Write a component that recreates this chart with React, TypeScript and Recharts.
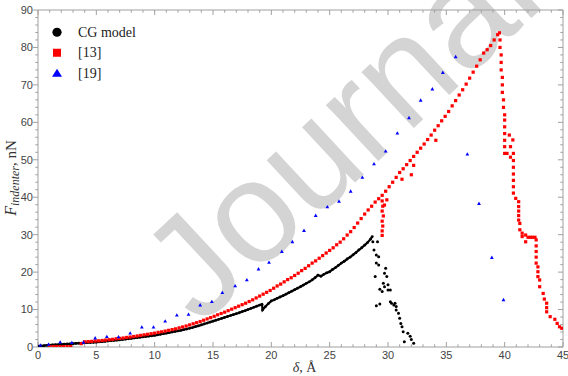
import React from 'react';
import { ScatterChart, Scatter, XAxis, YAxis, ReferenceLine, ReferenceArea, Legend } from 'recharts';

// ---------- axis ticks ----------
const xTicks = [0, 5, 10, 15, 20, 25, 30, 35, 40, 45];
const yTicks = [0, 10, 20, 30, 40, 50, 60, 70, 80, 90];
const xMinorTicks = [1, 2, 3, 4, 6, 7, 8, 9, 11, 12, 13, 14, 16, 17, 18, 19, 21, 22, 23, 24, 26, 27, 28, 29, 31, 32, 33, 34, 36, 37, 38, 39, 41, 42, 43, 44];
const yMinorTicks = [2, 4, 6, 8, 12, 14, 16, 18, 22, 24, 26, 28, 32, 34, 36, 38, 42, 44, 46, 48, 52, 54, 56, 58, 62, 64, 66, 68, 72, 74, 76, 78, 82, 84, 86, 88];

// ---------- series names ----------
const seriesNames = ['CG model', '[13]', '[19]'];

// ---------- CG model (dense curve) ----------
const cgCurveX = [0, 0.25, 0.5, 0.75, 1, 1.25, 1.5, 1.75, 2, 2.25, 2.5, 2.75, 3, 3.25, 3.5, 3.75, 4, 4.25, 4.5, 4.75, 5, 5.25, 5.5, 5.75, 6, 6.25, 6.5, 6.75, 7, 7.25, 7.5, 7.75, 8, 8.25, 8.5, 8.75, 9, 9.25, 9.5, 9.75, 10, 10.25, 10.5, 10.75, 11, 11.25, 11.5, 11.75, 12, 12.25, 12.5, 12.75, 13, 13.25, 13.5, 13.75, 14, 14.25, 14.5, 14.75, 15, 15.25, 15.5, 15.75, 16, 16.25, 16.5, 16.75, 17, 17.25, 17.5, 17.75, 18, 18.25, 18.5, 18.75, 19, 19.2, 19.25, 19.5, 19.75, 20, 20.25, 20.5, 20.75, 21, 21.25, 21.5, 21.75, 22, 22.25, 22.5, 22.75, 23, 23.25, 23.5, 23.75, 24, 24.25, 24.5, 24.75, 25, 25.25, 25.5, 25.75, 26, 26.25, 26.5, 26.75, 27, 27.25, 27.5, 27.75, 28, 28.25, 28.5, 28.65];
const cgCurveY = [0.2, 0.3, 0.35, 0.45, 0.5, 0.55, 0.6, 0.65, 0.7, 0.75, 0.8, 0.85, 0.9, 0.95, 1.0, 1.05, 1.1, 1.15, 1.2, 1.25, 1.3, 1.38, 1.45, 1.52, 1.6, 1.68, 1.75, 1.83, 1.9, 2.0, 2.1, 2.2, 2.3, 2.4, 2.5, 2.6, 2.7, 2.8, 2.9, 3.0, 3.1, 3.25, 3.4, 3.55, 3.7, 3.85, 4.0, 4.15, 4.3, 4.45, 4.65, 4.8, 5.0, 5.2, 5.45, 5.65, 5.9, 6.15, 6.4, 6.65, 6.9, 7.15, 7.4, 7.65, 7.9, 8.15, 8.4, 8.65, 8.9, 9.15, 9.45, 9.7, 10.0, 10.3, 10.6, 10.9, 11.2, 11.4, 9.9, 10.8, 11.6, 12.3, 12.6, 13.0, 13.35, 13.7, 14.1, 14.5, 14.9, 15.3, 15.7, 16.1, 16.55, 17.0, 17.4, 17.9, 18.5, 19.2, 18.9, 19.4, 19.8, 20.1, 20.7, 21.2, 21.8, 22.4, 22.9, 23.5, 24.0, 24.6, 25.2, 25.9, 26.5, 27.2, 27.9, 28.8, 29.5];

// ---------- CG model (scattered tail after rupture) ----------
const cgTailX = [28.7, 29.1, 28.8, 29.0, 29.2, 29.0, 29.2, 28.9, 29.3, 29.5, 29.0, 29.3, 29.8, 29.7, 29.9, 29.6, 29.7, 30.0, 30.0, 30.2, 30.2, 30.3, 30.5, 30.6, 30.7, 30.7, 30.9, 31.0, 31.1, 31.2, 31.3, 31.4, 31.7, 31.9, 32.0, 32.2];
const cgTailY = [28.1, 28.1, 25.9, 24.6, 24.1, 22.4, 21.9, 18.8, 15.4, 14.8, 11.0, 11.5, 21.0, 19.7, 18.8, 17.0, 16.1, 16.6, 15.2, 15.2, 12.1, 11.7, 11.2, 11.7, 10.8, 9.9, 9.0, 7.7, 6.3, 5.4, 4.1, 1.4, 3.7, 2.9, 2.0, 1.0];

// ---------- [13] ----------
const ref13X = [1.0, 1.3, 1.6, 1.9, 2.2, 2.5, 2.8, 3.7, 4.0, 4.3, 4.6, 4.9, 5.2, 5.5, 5.8, 6.1, 6.4, 6.7, 7.0, 7.3, 7.6, 7.9, 8.2, 8.5, 8.8, 9.1, 9.4, 9.7, 10.0, 10.3, 10.6, 10.9, 11.2, 11.5, 11.8, 12.1, 12.4, 12.7, 13.0, 13.3, 13.6, 13.9, 14.2, 14.5, 14.8, 15.1, 15.4, 15.7, 16.0, 16.3, 16.6, 16.9, 17.2, 17.5, 17.8, 18.1, 18.4, 18.7, 19.0, 19.3, 19.6, 19.9, 20.2, 20.5, 20.8, 21.1, 21.4, 21.7, 22.0, 22.3, 22.6, 22.9, 23.2, 23.5, 23.8, 24.1, 24.4, 24.7, 25.0, 25.3, 25.6, 25.9, 26.2, 26.5, 26.8, 27.1, 27.4, 27.7, 28.0, 28.3, 28.6, 28.9, 29.2, 29.5,
  29.5, 29.55, 29.5, 29.6, 29.5, 29.55, 29.5, 29.5, 29.9, 29.7,
  29.8, 30.1, 30.4, 30.7, 31.0, 31.2, 31.3, 31.6, 31.9, 32.0, 32.2, 32.2, 32.5, 32.8, 33.1, 33.4, 33.7, 34.0, 34.1, 34.3, 34.6, 34.9, 35.2, 35.5, 35.8, 36.1, 36.4, 36.7, 37.0, 37.3, 37.6, 37.9, 38.2, 38.5, 38.8, 39.1, 39.4, 39.55,
  39.6, 39.6, 39.7, 39.7, 39.7, 39.8, 39.8, 39.8, 39.9, 39.9, 40.0, 40.0, 40.0, 40.0, 40.0, 40.0, 40.0, 40.4, 40.7, 40.5, 40.2, 40.5, 40.75, 40.75, 40.75, 40.75, 40.75, 40.75, 40.75, 40.95, 41.2, 41.2, 41.2, 41.2, 41.2, 41.3, 41.3, 41.5, 41.5, 41.8, 41.8, 42.0, 42.2, 42.4, 42.6, 42.7, 42.7, 42.7, 42.7, 42.7, 42.85, 42.85, 42.85, 43.0, 43.0, 43.3, 43.4, 43.6, 43.6, 43.6, 43.9, 44.3, 44.5, 44.7, 44.9];
const ref13Y = [0.1, 0.1, 0.1, 0.1, 0.1, 0.1, 0.1, 0.9, 1.4, 1.45, 1.5, 1.6, 1.65, 1.75, 1.85, 1.95, 2.05, 2.2, 2.3, 2.4, 2.55, 2.65, 2.8, 2.95, 3.1, 3.25, 3.4, 3.55, 3.7, 3.9, 4.05, 4.25, 4.45, 4.65, 4.85, 5.1, 5.35, 5.6, 5.9, 6.2, 6.5, 6.8, 7.15, 7.5, 7.85, 8.2, 8.6, 8.95, 9.3, 9.7, 10.1, 10.5, 10.9, 11.3, 11.7, 12.15, 12.6, 13.1, 13.6, 14.1, 14.6, 15.1, 15.7, 16.3, 16.8, 17.4, 18.0, 18.5, 19.1, 19.7, 20.4, 21.0, 21.7, 22.4, 23.0, 23.7, 24.4, 25.1, 25.8, 26.5, 27.3, 28.0, 28.9, 29.9, 30.8, 31.9, 33.1, 34.3, 35.5, 36.6, 37.6, 38.7, 39.6, 40.5,
  39.0, 37.6, 36.3, 35.0, 33.6, 32.3, 31.0, 29.8, 39.3, 37.9,
  41.6, 42.8, 44.0, 45.3, 46.6, 44.8, 47.6, 48.7, 49.8, 46.0, 48.5, 50.9, 52.0, 53.1, 54.2, 55.4, 56.6, 57.9, 55.2, 59.1, 60.4, 61.6, 62.9, 64.4, 65.8, 67.3, 68.7, 70.2, 71.8, 73.4, 75.0, 76.7, 78.5, 79.4, 80.5, 82.0, 83.4, 83.9,
  82.0, 80.0, 78.0, 76.0, 74.0, 72.0, 70.0, 68.0, 66.0, 64.0, 62.0, 60.6, 58.8, 57.0, 55.2, 53.5, 51.7, 56.6, 55.3, 53.5, 51.7, 50.7, 51.7, 49.8, 48.0, 46.2, 44.5, 42.8, 41.1, 39.7, 38.8, 37.5, 36.3, 35.1, 33.9, 33.0, 31.3, 30.4, 29.5, 29.9, 28.1, 29.3, 29.3, 29.3, 29.3, 28.6, 27.0, 25.5, 24.0, 22.4, 21.4, 20.1, 18.8, 17.9, 16.1, 14.3, 12.8, 11.7, 10.5, 9.4, 8.1, 7.4, 6.3, 5.4, 5.0];

// ---------- [19] ----------
const ref19X = [0.2, 0.9, 1.9, 2.9, 3.9, 4.9, 5.9, 6.9, 7.9, 8.9, 9.9, 10.9, 11.9, 12.9, 13.9, 14.9, 15.8, 16.9, 17.9, 18.9, 19.8, 20.9, 21.8, 22.8, 23.8, 24.8, 25.8, 26.8, 27.8, 28.8, 29.8, 30.8, 31.8, 32.8, 33.8, 34.7, 35.8, 36.8, 37.8, 38.9, 39.9];
const ref19Y = [0.5, 0.7, 1.3, 1.15, 1.25, 2.4, 2.75, 2.7, 3.7, 5.3, 5.3, 6.9, 8.5, 8.7, 11.2, 12.1, 14.5, 16.3, 17.9, 20.8, 22.6, 25.5, 28.1, 31.1, 35.1, 37.4, 38.9, 41.6, 45.3, 48.9, 52.3, 57.1, 61.2, 65.9, 68.9, 73.3, 77.5, 51.5, 38.3, 23.9, 12.6];

const zip = (xs: number[], ys: number[]) => xs.map((x, i) => ({ x, y: ys[i] }));
const cgCurve = zip(cgCurveX, cgCurveY);
const cgTail = zip(cgTailX, cgTailY);
const ref13 = zip(ref13X, ref13Y);
const ref19 = zip(ref19X, ref19Y);

const FRAME = '#a0a0a0';
const TICK_FONT = "'Liberation Sans', Arial, sans-serif";
const SERIF = "'Liberation Serif', 'Times New Roman', serif";

const BlackDot = (p: any) => <circle cx={p.cx} cy={p.cy} r={1.4} fill="#000" />;
const TailDot = (p: any) => <circle cx={p.cx} cy={p.cy} r={1.5} fill="#000" />;
const RedSquare = (p: any) => <rect x={p.cx - 1.6} y={p.cy - 1.6} width={3.2} height={3.2} fill="#ff0000" />;
const BlueTri = (p: any) => (
  <polygon points={`${p.cx},${p.cy - 2} ${p.cx + 1.9},${p.cy + 1.4} ${p.cx - 1.9},${p.cy + 1.4}`} fill="#0000ff" />
);

const LegendContent = () => {
  const rowH = 20.5;
  const markers = [
    (cy: number) => <circle cx={9} cy={cy} r={4.6} fill="#000" />,
    (cy: number) => <rect x={5} y={cy - 4} width={8} height={8} fill="#ff0000" />,
    (cy: number) => <polygon points={`9,${cy - 4.5} 14,${cy + 3.5} 4,${cy + 3.5}`} fill="#0000ff" />,
  ];
  return (
    <svg width={140} height={66} style={{ display: 'block' }}>
      {seriesNames.map((n, i) => {
        const cy = 10.25 + i * rowH;
        return (
          <g key={n}>
            {markers[i](cy)}
            <text x={30} y={cy + 4.6} fontFamily={SERIF} fontSize={14} fill="#222">{n}</text>
          </g>
        );
      })}
    </svg>
  );
};

const XLabel = (props: any) => {
  const vb = props.viewBox || { x: 38, y: 347, width: 525, height: 29 };
  return (
    <text x={vb.x + vb.width / 2 + 4} y={vb.y + 25} textAnchor="middle" fontFamily={SERIF} fontSize={14} fill="#333">
      <tspan fontStyle="italic">δ</tspan>
      <tspan>, Å</tspan>
    </text>
  );
};

const YLabel = (props: any) => {
  const vb = props.viewBox || { x: 0, y: 10, width: 38, height: 337 };
  const cx = vb.x + 16;
  const cy = vb.y + 168;
  return (
    <text x={cx} y={cy} transform={`rotate(-90, ${cx}, ${cy})`} textAnchor="middle" fontFamily={SERIF} fontSize={15} fill="#333">
      <tspan fontStyle="italic" fontSize={16}>F</tspan>
      <tspan fontStyle="italic" fontSize={12} dy={3}>indenter</tspan>
      <tspan dy={-3}>, nN</tspan>
    </text>
  );
};

// tick lengths in data units (x: ~11.67 px/unit, y: ~3.74 px/unit)
const MAJ_Y = 1.34;
const MIN_Y = 0.72;
const MAJ_X = 0.43;
const MIN_X = 0.23;

export default function App() {
  const tickLines: any[] = [];
  xTicks.forEach((v) => {
    tickLines.push(<ReferenceLine key={`tM${v}`} segment={[{ x: v, y: 90 }, { x: v, y: 90 - MAJ_Y }]} stroke={FRAME} ifOverflow="visible" />);
    tickLines.push(<ReferenceLine key={`bM${v}`} segment={[{ x: v, y: 0 }, { x: v, y: MAJ_Y }]} stroke={FRAME} ifOverflow="visible" />);
  });
  xMinorTicks.forEach((v) => {
    tickLines.push(<ReferenceLine key={`tm${v}`} segment={[{ x: v, y: 90 }, { x: v, y: 90 - MIN_Y }]} stroke={FRAME} ifOverflow="visible" />);
    tickLines.push(<ReferenceLine key={`bm${v}`} segment={[{ x: v, y: 0 }, { x: v, y: MIN_Y }]} stroke={FRAME} ifOverflow="visible" />);
  });
  yTicks.forEach((v) => {
    tickLines.push(<ReferenceLine key={`lM${v}`} segment={[{ x: 0, y: v }, { x: -MAJ_X, y: v }]} stroke={FRAME} ifOverflow="visible" />);
    tickLines.push(<ReferenceLine key={`rM${v}`} segment={[{ x: 45, y: v }, { x: 45 - MAJ_X, y: v }]} stroke={FRAME} ifOverflow="visible" />);
  });
  yMinorTicks.forEach((v) => {
    tickLines.push(<ReferenceLine key={`lm${v}`} segment={[{ x: 0, y: v }, { x: -MIN_X, y: v }]} stroke={FRAME} ifOverflow="visible" />);
    tickLines.push(<ReferenceLine key={`rm${v}`} segment={[{ x: 45, y: v }, { x: 45 - MIN_X, y: v }]} stroke={FRAME} ifOverflow="visible" />);
  });

  return (
    <div style={{ position: 'absolute', left: 0, top: 0, width: 568, height: 376, background: '#fff' }}>
      <svg width={568} height={376} style={{ position: 'absolute', left: 0, top: 0 }}>
        <text
          x={374}
          y={165}
          transform="rotate(-43, 374, 165)"
          textAnchor="middle"
          fontFamily="'Liberation Sans', Arial, sans-serif"
          fontSize={145}
          fill="#d4d4d4"
        >
          Journal
        </text>
      </svg>
      <div style={{ position: 'absolute', left: 0, top: 0 }}>
        <ScatterChart width={568} height={376} margin={{ top: 10, right: 5, bottom: 0, left: 0 }}>
          <XAxis
            type="number"
            dataKey="x"
            domain={[0, 45]}
            ticks={xTicks}
            interval={0}
            allowDataOverflow
            height={29}
            axisLine={false}
            tickLine={false}
            tickSize={0}
            tickMargin={4}
            tick={{ fontSize: 11, fill: '#444', fontFamily: TICK_FONT }}
            label={{ content: XLabel }}
          />
          <YAxis
            type="number"
            dataKey="y"
            domain={[0, 90]}
            ticks={yTicks}
            interval={0}
            allowDataOverflow
            width={38}
            axisLine={false}
            tickLine={false}
            tickSize={0}
            tickMargin={5}
            tick={{ fontSize: 11, fill: '#444', fontFamily: TICK_FONT }}
            label={{ content: YLabel }}
          />
          <ReferenceArea x1={0} x2={45} y1={0} y2={90} fill="none" fillOpacity={0} stroke={FRAME} strokeWidth={1} ifOverflow="visible" />
          {tickLines}
          <Scatter name={seriesNames[0]} data={cgCurve} fill="#000" shape={BlackDot} line={{ stroke: '#000', strokeWidth: 2.2 }} lineType="joint" isAnimationActive={false} />
          <Scatter name="tail" data={cgTail} fill="#000" shape={TailDot} legendType="none" isAnimationActive={false} />
          <Scatter name={seriesNames[1]} data={ref13} fill="#ff0000" shape={RedSquare} isAnimationActive={false} />
          <Scatter name={seriesNames[2]} data={ref19} fill="#0000ff" shape={BlueTri} isAnimationActive={false} />
          <Legend
            layout="vertical"
            align="center"
            verticalAlign="middle"
            content={LegendContent}
            wrapperStyle={{ left: 48, top: 22, width: 140 }}
          />
        </ScatterChart>
      </div>
    </div>
  );
}
